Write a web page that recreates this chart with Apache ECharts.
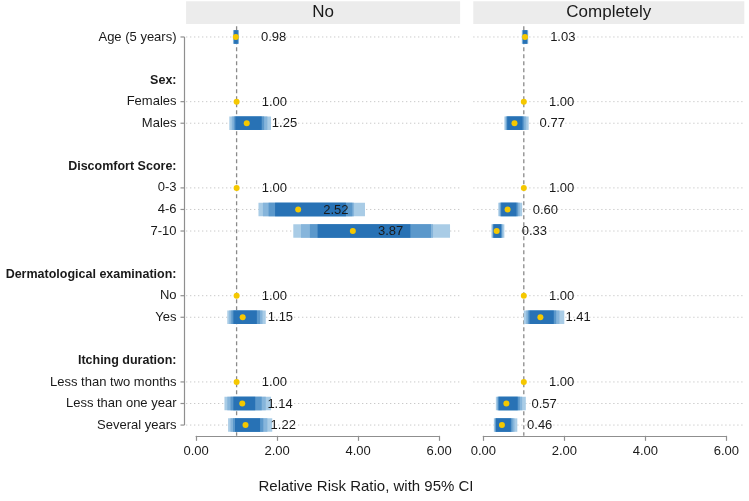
<!DOCTYPE html>
<html><head><meta charset="utf-8">
<script src="https://cdn.jsdelivr.net/npm/echarts@6/dist/echarts.min.js"></script>
<style>html,body{margin:0;padding:0;background:#fff}#c{width:749px;height:501px}</style>
</head><body><div id="c"></div><script>
// ---- data ----
const rowLabels = ['Age (5 years)', ' ', 'Sex:', 'Females', 'Males', '  ', 'Discomfort Score:', '0-3', '4-6', '7-10', '   ',
  'Dermatological examination:', 'No', 'Yes', '    ', 'Itching duration:', 'Less than two months', 'Less than one year', 'Several years'];
const headerRows = ['Sex:', 'Discomfort Score:', 'Dermatological examination:', 'Itching duration:'];
const panelNames = ['No', 'Completely'];
const xTicks = [0, 2, 4, 6];
const refValue = 1;

// Panel "No"
const noEst   = [0.98, null, null, 1.00, 1.25, null, null, 1.00, 2.52, 3.87, null, null, 1.00, 1.15, null, null, 1.00, 1.14, 1.22];
const noLo95  = [0.91, null, null, null, 0.82, null, null, null, 1.54, 2.40, null, null, null, 0.77, null, null, null, 0.70, 0.79];
const noHi95  = [1.06, null, null, null, 1.85, null, null, null, 4.17, 6.27, null, null, null, 1.72, null, null, null, 1.85, 1.88];
const noLo90  = [0.92, null, null, null, 0.88, null, null, null, 1.65, 2.59, null, null, null, 0.82, null, null, null, 0.77, 0.85];
const noHi90  = [1.05, null, null, null, 1.76, null, null, null, 3.90, 5.85, null, null, null, 1.64, null, null, null, 1.72, 1.76];
const noLo85  = [0.93, null, null, null, 0.93, null, null, null, 1.79, 2.81, null, null, null, 0.87, null, null, null, 0.85, 0.91];
const noHi85  = [1.04, null, null, null, 1.68, null, null, null, 3.86, 5.80, null, null, null, 1.58, null, null, null, 1.62, 1.66];
const noLo80  = [0.94, null, null, null, 0.97, null, null, null, 1.95, 3.00, null, null, null, 0.92, null, null, null, 0.92, 0.96];
const noHi80  = [1.03, null, null, null, 1.62, null, null, null, 3.70, 5.29, null, null, null, 1.50, null, null, null, 1.46, 1.58];

// Panel "Completely"
const coEst   = [1.03, null, null, 1.00, 0.77, null, null, 1.00, 0.60, 0.33, null, null, 1.00, 1.41, null, null, 1.00, 0.57, 0.46];
const coLo95  = [0.95, null, null, null, 0.52, null, null, null, 0.37, 0.20, null, null, null, 1.00, null, null, null, 0.31, 0.26];
const coHi95  = [1.11, null, null, null, 1.12, null, null, null, 0.96, 0.52, null, null, null, 2.00, null, null, null, 1.05, 0.84];
const coLo90  = [0.96, null, null, null, 0.55, null, null, null, 0.40, 0.22, null, null, null, 1.06, null, null, null, 0.34, 0.28];
const coHi90  = [1.10, null, null, null, 1.06, null, null, null, 0.90, 0.48, null, null, null, 1.88, null, null, null, 0.96, 0.77];
const coLo85  = [0.97, null, null, null, 0.57, null, null, null, 0.42, 0.24, null, null, null, 1.10, null, null, null, 0.36, 0.30];
const coHi85  = [1.09, null, null, null, 1.01, null, null, null, 0.86, 0.46, null, null, null, 1.80, null, null, null, 0.90, 0.72];
const coLo80  = [0.98, null, null, null, 0.59, null, null, null, 0.44, 0.25, null, null, null, 1.14, null, null, null, 0.38, 0.31];
const coHi80  = [1.08, null, null, null, 0.97, null, null, null, 0.82, 0.44, null, null, null, 1.74, null, null, null, 0.85, 0.68];

// ---- styling ----
const FONT = '"Liberation Sans", Arial, Helvetica, sans-serif';
const TXT = '#1a1a1a';
const AXC = '#8f8f8f';
const bandColors = ['#a9cce6', '#86b5db', '#5b98cb', '#2872b5'];
const dotColor = '#f5c800';
const rowH = 21.56;
const gridTop = 26.2;
const gridH = rowH * rowLabels.length;
const unitPx = 40.5;
const gridLefts = [196.1, 483.3];
const stripRightPad = [21, 18];
const yAxisGap = 11.6;

function buildRows(est, l95, h95, l90, h90, l85, h85, l80, h80) {
  const out = [];
  est.forEach((e, i) => {
    if (e == null) return;
    out.push([i, e,
      l95[i] == null ? '-' : l95[i], h95[i] == null ? '-' : h95[i],
      l90[i] == null ? '-' : l90[i], h90[i] == null ? '-' : h90[i],
      l85[i] == null ? '-' : l85[i], h85[i] == null ? '-' : h85[i],
      l80[i] == null ? '-' : l80[i], h80[i] == null ? '-' : h80[i]]);
  });
  return out;
}
const panelData = [
  buildRows(noEst, noLo95, noHi95, noLo90, noHi90, noLo85, noHi85, noLo80, noHi80),
  buildRows(coEst, coLo95, coHi95, coLo90, coHi90, coLo85, coHi85, coLo80, coHi80)
];
const dataRowIdx = noEst.map((e, i) => e != null ? i : null).filter(v => v != null);

function bandRender(params, api) {
  const i = api.value(0);
  const est = api.value(1);
  const y = api.coord([0, i])[1];
  const h = 13.5;
  const children = [];
  for (let k = 0; k < 4; k++) {
    const lo = api.value(2 + 2 * k), hi = api.value(3 + 2 * k);
    if (lo == null || isNaN(lo) || hi == null || isNaN(hi)) continue;
    const x0 = api.coord([lo, i])[0], x1 = api.coord([hi, i])[0];
    children.push({ type: 'rect', shape: { x: x0, y: y - h / 2, width: x1 - x0, height: h }, style: { fill: bandColors[k] } });
  }
  const xe = api.coord([est, i])[0];
  children.push({ type: 'circle', shape: { cx: xe, cy: y, r: 3 }, style: { fill: dotColor } });
  const xl = api.coord([est + 0.62, i])[0];
  children.push({ type: 'text', style: { text: est.toFixed(2), x: xl, y: y + 0.5, align: 'left', verticalAlign: 'middle',
    textAlign: 'left', textVerticalAlign: 'middle', font: '13px ' + FONT, fill: TXT } });
  return { type: 'group', children };
}

function decorRender(p) {
  return function (params, api) {
    const cs = params.coordSys;
    const left = cs.x - 10;
    const right = cs.x + cs.width + stripRightPad[p];
    const children = [];
    children.push({ type: 'rect', shape: { x: left, y: cs.y - 25, width: right - left, height: 22.8 }, style: { fill: '#ececec' } });
    children.push({ type: 'text', style: { text: panelNames[p], x: (left + right) / 2, y: cs.y - 13.5,
      align: 'center', verticalAlign: 'middle', textAlign: 'center', textVerticalAlign: 'middle', font: '17px ' + FONT, fill: TXT } });
    dataRowIdx.forEach(i => {
      const y = api.coord([0, i])[1];
      children.push({ type: 'line', shape: { x1: left, y1: y, x2: right, y2: y },
        style: { stroke: '#c4c4c4', lineWidth: 1, lineDash: [1.2, 2.8] } });
    });
    const xr = api.coord([refValue, 0])[0];
    children.push({ type: 'line', shape: { x1: xr, y1: cs.y, x2: xr, y2: cs.y + cs.height },
      style: { stroke: '#8a8a8a', lineWidth: 1.3, lineDash: [4, 3] } });
    if (p === 0) {
      const yTop = api.coord([0, dataRowIdx[0]])[1];
      const yBot = api.coord([0, dataRowIdx[dataRowIdx.length - 1]])[1];
      const xa = cs.x - yAxisGap;
      children.push({ type: 'line', shape: { x1: xa, y1: yTop, x2: xa, y2: yBot }, style: { stroke: AXC, lineWidth: 1.2 } });
      dataRowIdx.forEach(i => {
        const y = api.coord([0, i])[1];
        children.push({ type: 'line', shape: { x1: xa - 4, y1: y, x2: xa, y2: y }, style: { stroke: AXC, lineWidth: 1.2 } });
      });
    }
    return { type: 'group', children };
  };
}

const chart = echarts.init(document.getElementById('c'), null, { renderer: 'canvas' });
const grids = gridLefts.map(l => ({ left: l, top: gridTop, width: unitPx * 6, height: gridH, containLabel: false, outerBoundsMode: 'none' }));
const xAxes = [0, 1].map(g => ({
  type: 'value', gridIndex: g, min: xTicks[0], max: xTicks[xTicks.length - 1], interval: 2,
  axisLine: { show: true, lineStyle: { color: AXC, width: 1.2 } },
  axisTick: { show: true, length: 5, lineStyle: { color: AXC, width: 1.2 } },
  axisLabel: { formatter: v => v.toFixed(2), fontSize: 13, fontFamily: FONT, color: TXT, margin: 9 },
  splitLine: { show: false }
}));
const yAxes = [0, 1].map(g => ({
  type: 'category', gridIndex: g, inverse: true,
  data: rowLabels.map(r => headerRows.includes(r) ? { value: r, textStyle: { fontWeight: 'bold', fontSize: 12.5 } } : r),
  offset: g === 0 ? yAxisGap : 0,
  axisLine: { show: false },
  axisTick: { show: false },
  axisLabel: { show: g === 0, interval: 0, fontSize: 13, fontFamily: FONT, color: TXT, margin: 8 },
  splitLine: { show: false }
}));
const series = [];
[0, 1].forEach(p => {
  series.push({ type: 'custom', xAxisIndex: p, yAxisIndex: p, clip: false, silent: true, z: 1,
    renderItem: decorRender(p), data: [[refValue, 0]], encode: { x: 0, y: 1 } });
  series.push({ type: 'custom', xAxisIndex: p, yAxisIndex: p, clip: false, silent: true, z: 5,
    renderItem: bandRender, data: panelData[p], encode: { x: [1, 2, 3], y: 0 } });
});
chart.setOption({
  animation: false,
  textStyle: { fontFamily: FONT },
  grid: grids, xAxis: xAxes, yAxis: yAxes, series,
  graphic: [{ type: 'text', x: 366, y: 487, style: { text: 'Relative Risk Ratio, with 95% CI', font: '15px ' + FONT, fill: TXT,
    align: 'center', verticalAlign: 'middle', textAlign: 'center', textVerticalAlign: 'middle' } }]
});
</script></body></html>
